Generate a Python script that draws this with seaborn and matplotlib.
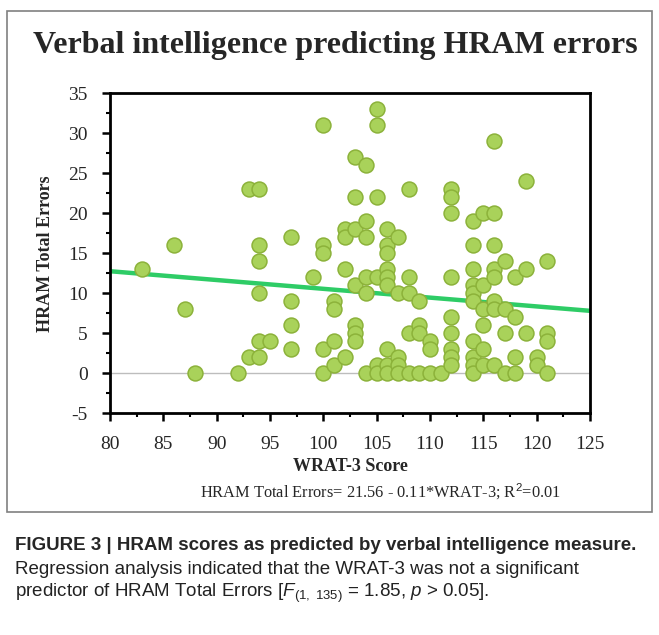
import numpy as np
import pandas as pd
import seaborn as sns
import matplotlib.pyplot as plt
from matplotlib.patches import Rectangle
from matplotlib.ticker import MultipleLocator

# WRAT-3 score -> HRAM total errors (one list per score)
wrat_scores = [83, 86, 87, 88, 92, 93, 94, 95, 97, 99, 100, 101, 102, 103, 104,
               105, 106, 107, 108, 109, 110, 111, 112, 114, 115, 116, 117, 118,
               119, 120, 121]
hram_errors = [
    [13], [16], [8], [0], [0], [23, 2],
    [23, 16, 14, 10, 4, 2], [4], [17, 9, 6, 3], [12],
    [31, 16, 15, 3, 0], [9, 8, 4, 1], [18, 17, 13, 2],
    [27, 22, 18, 11, 6, 5, 4], [26, 19, 17, 12, 10, 0],
    [33, 31, 22, 12, 1, 0], [18, 16, 15, 13, 12, 11, 3, 1, 0],
    [17, 10, 2, 1, 0], [23, 12, 10, 5, 0], [9, 6, 5, 0], [4, 3, 0], [0],
    [23, 22, 20, 12, 7, 5, 3, 2, 1], [19, 16, 13, 11, 10, 9, 4, 2, 1, 0],
    [20, 11, 8, 6, 3, 1], [29, 20, 16, 13, 12, 9, 8, 1], [14, 8, 5, 0],
    [12, 7, 2, 0], [24, 13, 5], [2, 1], [14, 5, 4, 0],
]

# regression reported under the chart
intercept = 21.56
slope = -0.11

x_ticks = [80, 85, 90, 95, 100, 105, 110, 115, 120, 125]
y_ticks = [-5, 0, 5, 10, 15, 20, 25, 30, 35]

rows = [(s, e) for s, errs in zip(wrat_scores, hram_errors) for e in errs]
df = pd.DataFrame(rows, columns=['WRAT-3 Score', 'HRAM Total Errors'])

sns.set_style('white')
plt.rcParams['font.family'] = ['Liberation Serif', 'DejaVu Serif']
plt.rcParams['axes.unicode_minus'] = False
plt.rcParams['mathtext.fontset'] = 'custom'
plt.rcParams['mathtext.rm'] = 'Liberation Sans'
plt.rcParams['mathtext.it'] = 'Liberation Sans:italic'

fig = plt.figure(figsize=(6.59, 6.35), dpi=100)
fig.patch.set_facecolor('white')

# grey frame around the chart panel
fig.patches.append(Rectangle((7 / 659, 1 - 512 / 635), 645 / 659, 501 / 635,
                             transform=fig.transFigure, fill=False,
                             edgecolor='#808080', linewidth=1.2))

ax = fig.add_axes([110 / 659, 1 - 413.3 / 635, 480 / 659, 320 / 635])

ax.axhline(0, color='#bdbdbd', linewidth=1, zorder=1)

line_x = np.array([x_ticks[0], x_ticks[-1]])
line_df = pd.DataFrame({'x': line_x, 'y': intercept + slope * line_x})
sns.lineplot(data=line_df, x='x', y='y', ax=ax, color='#2ecc66',
             linewidth=3.2, zorder=2)

sns.scatterplot(data=df, x='WRAT-3 Score', y='HRAM Total Errors', ax=ax,
                s=115, color='#a9d25a', edgecolor='#8cb23a', linewidth=1.1,
                zorder=3)

ax.set_xlim(x_ticks[0], x_ticks[-1])
ax.set_ylim(y_ticks[0], y_ticks[-1])
ax.set_xticks(x_ticks)
ax.set_yticks(y_ticks)
ax.xaxis.set_minor_locator(MultipleLocator(2.5))
ax.yaxis.set_minor_locator(MultipleLocator(2.5))
ax.tick_params(axis='both', which='major', direction='out', length=6,
               width=1.8, labelsize=14, color='black', bottom=True, left=True)
ax.tick_params(axis='both', which='minor', direction='out', length=3,
               width=1.5, color='black', bottom=True, left=True)
ax.tick_params(axis='x', which='major', pad=10)
ax.tick_params(axis='y', which='major', pad=10)
for sp in ax.spines.values():
    sp.set_color('black')
    sp.set_linewidth(2)

ax.set_xlabel('WRAT-3 Score', fontsize=13, fontweight='bold', labelpad=4)
ax.set_ylabel('HRAM Total Errors', fontsize=13, fontweight='bold', labelpad=10)

fig.text(335 / 659, 1 - 45 / 635, 'Verbal intelligence predicting HRAM errors',
         ha='center', va='center', fontsize=23, fontweight='bold')
fig.text(380 / 659, 1 - 492 / 635,
         'HRAM Total Errors= 21.56 - 0.11*WRAT-3; R$^2$=0.01',
         ha='center', va='center', fontsize=11.8)

sans = ['Liberation Sans', 'DejaVu Sans']
fig.text(15 / 659, 1 - 545 / 635,
         'FIGURE 3 | HRAM scores as predicted by verbal intelligence measure.',
         ha='left', va='center', fontsize=13.5, fontweight='bold', family=sans)
fig.text(15 / 659, 1 - 569 / 635,
         'Regression analysis indicated that the WRAT-3 was not a significant',
         ha='left', va='center', fontsize=13.5, family=sans, color='#222222')
fig.text(15 / 659, 1 - 593 / 635,
         r'predictor of HRAM Total Errors [$F_{(1,\ 135)}$ = 1.85, $p$ > 0.05].',
         ha='left', va='center', fontsize=13.5, family=sans, color='#222222')

fig.savefig('out.png', dpi=100, facecolor='white')
